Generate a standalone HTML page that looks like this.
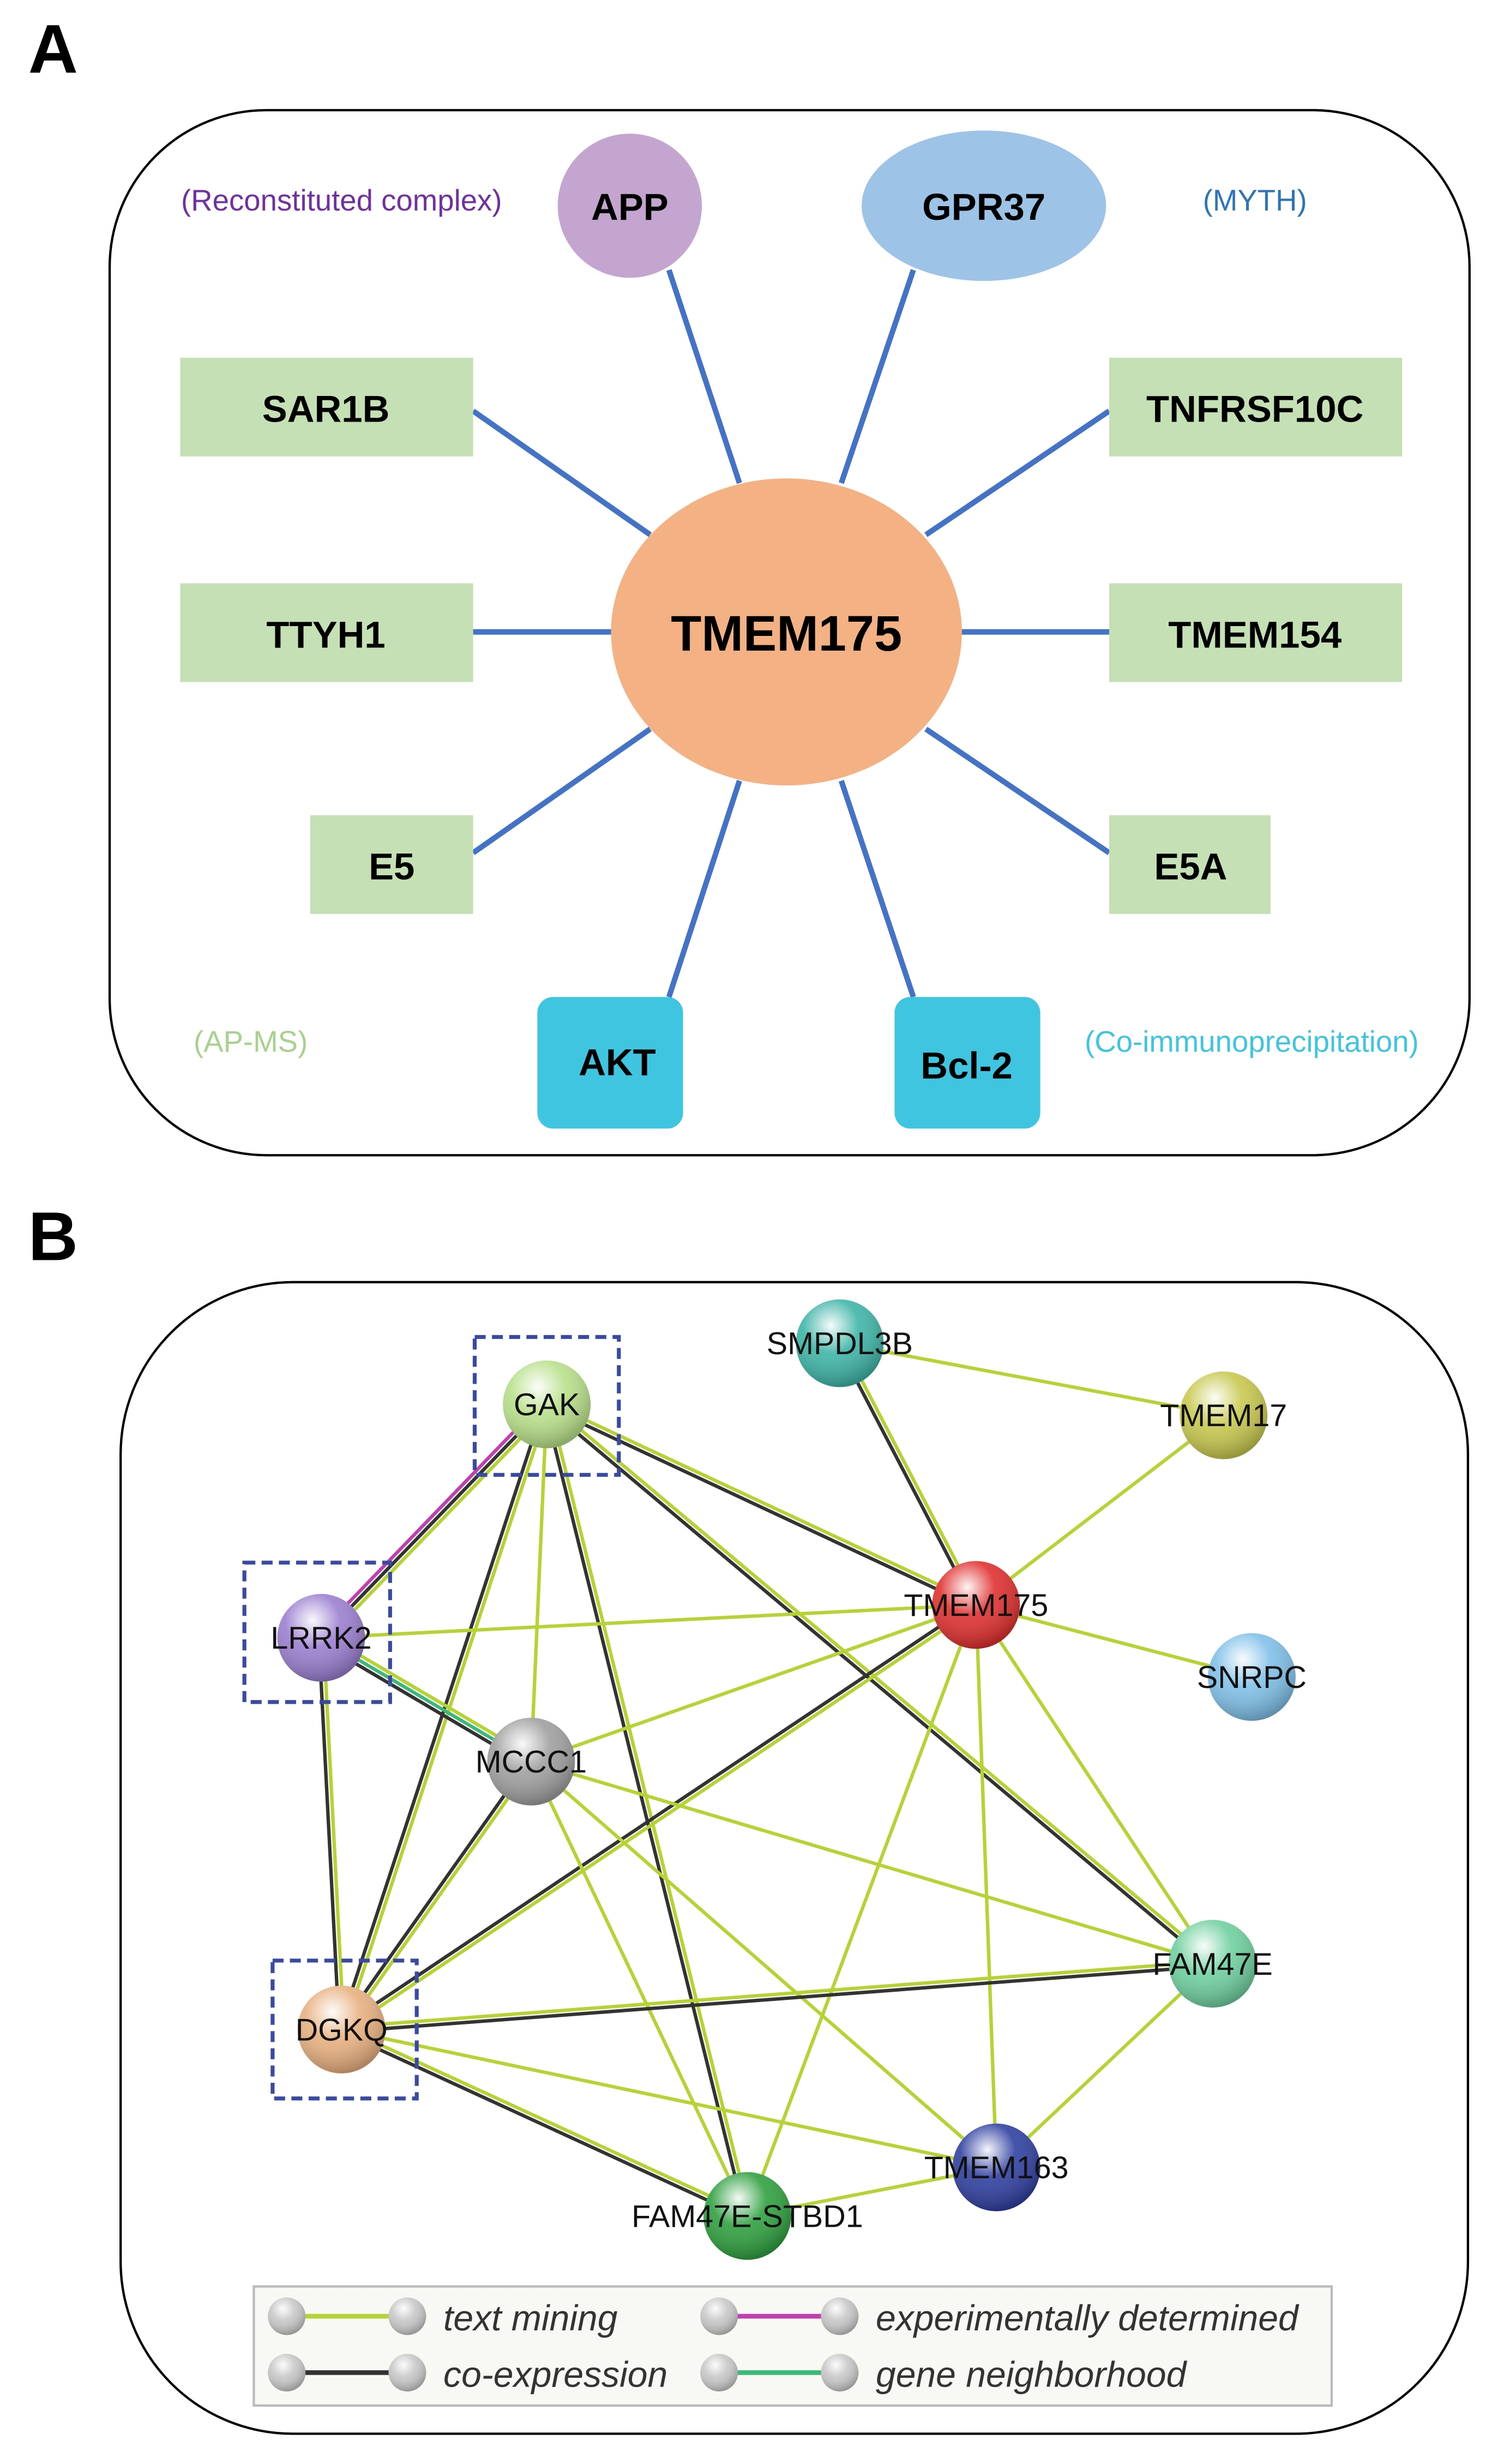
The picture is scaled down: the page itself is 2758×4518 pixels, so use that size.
<!DOCTYPE html>
<html><head><meta charset="utf-8">
<style>
html,body{margin:0;padding:0;background:#fff;}
svg{display:block;}
text{font-family:"Liberation Sans",Arial,sans-serif;}
</style></head>
<body>
<svg id="s" width="2758" height="4518" viewBox="0 0 960 1572" xmlns="http://www.w3.org/2000/svg">
<defs>
<radialGradient id="hl" cx="0.4" cy="0.3" r="0.7">
<stop offset="0" stop-color="#fff" stop-opacity="0.95"/>
<stop offset="0.45" stop-color="#fff" stop-opacity="0.1"/>
<stop offset="1" stop-color="#000" stop-opacity="0.25"/>
</radialGradient>
</defs>
<rect width="960" height="1572" fill="#fff"/>
<!-- Panel A -->
<text x="18" y="46" font-size="44" font-weight="bold">A</text>
<rect x="70" y="70" width="868" height="667" rx="100" fill="none" stroke="#000" stroke-width="1.5"/>
<g stroke="#4472C4" stroke-width="3.5">
<line x1="427" y1="172" x2="472" y2="308"/>
<line x1="583" y1="172" x2="537" y2="308"/>
<line x1="302" y1="262" x2="415" y2="341"/>
<line x1="708" y1="262" x2="591" y2="341"/>
<line x1="302" y1="403" x2="392" y2="403"/>
<line x1="612" y1="403" x2="708" y2="403"/>
<line x1="302" y1="544" x2="415" y2="465"/>
<line x1="708" y1="544" x2="591" y2="465"/>
<line x1="427" y1="636" x2="472" y2="498"/>
<line x1="583" y1="636" x2="537" y2="498"/>
</g>
<ellipse cx="502" cy="403" rx="112" ry="98" fill="#F4B183"/>
<circle cx="402" cy="131" r="46" fill="#C3A5CF"/>
<ellipse cx="628" cy="131" rx="78" ry="48" fill="#9DC3E6"/>
<g fill="#C5E0B4">
<rect x="115" y="228" width="187" height="63"/>
<rect x="708" y="228" width="187" height="63"/>
<rect x="115" y="372" width="187" height="63"/>
<rect x="708" y="372" width="187" height="63"/>
<rect x="198" y="520" width="104" height="63"/>
<rect x="708" y="520" width="103" height="63"/>
</g>
<rect x="343" y="636" width="93" height="84" rx="10" fill="#3FC5E0"/>
<rect x="571" y="636" width="93" height="84" rx="10" fill="#3FC5E0"/>
<g font-weight="bold" text-anchor="middle" font-size="24">
<text x="502" y="415" font-size="32">TMEM175</text>
<text x="402" y="140">APP</text>
<text x="628" y="140">GPR37</text>
<text x="208" y="269">SAR1B</text>
<text x="801" y="269">TNFRSF10C</text>
<text x="208" y="413">TTYH1</text>
<text x="801" y="413">TMEM154</text>
<text x="250" y="561">E5</text>
<text x="760" y="561">E5A</text>
<text x="394" y="686">AKT</text>
<text x="617" y="688">Bcl-2</text>
</g>
<g font-size="19" text-anchor="middle">
<text x="218" y="134" fill="#7030A0">(Reconstituted complex)</text>
<text x="801" y="134" fill="#2E75B6">(MYTH)</text>
<text x="160" y="671" fill="#A9D18E">(AP-MS)</text>
<text x="799" y="671" fill="#3FC5E0">(Co-immunoprecipitation)</text>
</g>
<!-- Panel B -->
<text x="18" y="804" font-size="44" font-weight="bold">B</text>
<rect x="77" y="818" width="860" height="735" rx="110" fill="none" stroke="#000" stroke-width="1.5"/>
<g id="edges"></g>
<g id="nodes"></g>
<g fill="none" stroke="#3A4AA0" stroke-width="2.5" stroke-dasharray="7,4">
<rect x="303" y="853" width="92" height="88"/>
<rect x="156" y="997" width="93" height="89"/>
<rect x="174" y="1251" width="92" height="88"/>
</g>
<rect x="162" y="1459" width="688" height="76" fill="#F8F8F4" stroke="#BBB" stroke-width="1.5"/>
<g stroke-width="3">
<line x1="183" y1="1478" x2="260" y2="1478" stroke="#B5D335"/>
<line x1="459" y1="1478" x2="536" y2="1478" stroke="#C040B0"/>
<line x1="183" y1="1514" x2="260" y2="1514" stroke="#333"/>
<line x1="459" y1="1514" x2="536" y2="1514" stroke="#3CB878"/>
</g>
<g>
<circle cx="183" cy="1478" r="12" fill="#c8c8c8"/><circle cx="183" cy="1478" r="12" fill="url(#hl)"/>
<circle cx="260" cy="1478" r="12" fill="#c8c8c8"/><circle cx="260" cy="1478" r="12" fill="url(#hl)"/>
<circle cx="459" cy="1478" r="12" fill="#c8c8c8"/><circle cx="459" cy="1478" r="12" fill="url(#hl)"/>
<circle cx="536" cy="1478" r="12" fill="#c8c8c8"/><circle cx="536" cy="1478" r="12" fill="url(#hl)"/>
<circle cx="183" cy="1514" r="12" fill="#c8c8c8"/><circle cx="183" cy="1514" r="12" fill="url(#hl)"/>
<circle cx="260" cy="1514" r="12" fill="#c8c8c8"/><circle cx="260" cy="1514" r="12" fill="url(#hl)"/>
<circle cx="459" cy="1514" r="12" fill="#c8c8c8"/><circle cx="459" cy="1514" r="12" fill="url(#hl)"/>
<circle cx="536" cy="1514" r="12" fill="#c8c8c8"/><circle cx="536" cy="1514" r="12" fill="url(#hl)"/>
</g>
<g font-size="23" font-style="italic" fill="#333">
<text x="283" y="1487">text mining</text>
<text x="559" y="1487">experimentally determined</text>
<text x="283" y="1523">co-expression</text>
<text x="559" y="1523">gene neighborhood</text>
</g>
</svg>
<script>
var N={GAK:[349,896,"#B8E08A"],SMPDL3B:[536,857,"#3FB5A8"],TMEM17:[781,903,"#C8C850"],TMEM175:[623,1024,"#E03030"],
LRRK2:[205,1045,"#9B7FD0"],SNRPC:[799,1070,"#80C0E8"],MCCC1:[339,1124,"#A0A0A0"],FAM47E:[774,1253,"#70D0A0"],
DGKQ:[218,1295,"#E8B080"],TMEM163:[636,1383,"#3040A0"],"FAM47E-STBD1":[477,1414,"#30A040"]};
var C={t:"#B5D335",c:"#333333",e:"#C040B0",n:"#3CB878"};
var E=[["GAK","LRRK2","tce"],["GAK","TMEM175","tc"],["GAK","FAM47E","tc"],["GAK","MCCC1","t"],["GAK","DGKQ","tc"],
["GAK","FAM47E-STBD1","tc"],["SMPDL3B","TMEM17","t"],["SMPDL3B","TMEM175","tc"],["TMEM17","TMEM175","t"],["TMEM175","SNRPC","t"],
["TMEM175","LRRK2","t"],["TMEM175","MCCC1","t"],["TMEM175","DGKQ","tc"],["TMEM175","FAM47E","t"],["TMEM175","TMEM163","t"],
["TMEM175","FAM47E-STBD1","t"],["LRRK2","MCCC1","tnc"],["LRRK2","DGKQ","tc"],["MCCC1","DGKQ","tc"],["MCCC1","FAM47E","t"],
["MCCC1","TMEM163","t"],["MCCC1","FAM47E-STBD1","t"],["DGKQ","FAM47E","tc"],["DGKQ","TMEM163","t"],["DGKQ","FAM47E-STBD1","tc"],
["FAM47E","TMEM163","t"],["TMEM163","FAM47E-STBD1","t"]];
var ns="http://www.w3.org/2000/svg",eg=document.getElementById("edges"),ng=document.getElementById("nodes");
function el(t,a,p){var e=document.createElementNS(ns,t);for(var k in a)e.setAttribute(k,a[k]);p.appendChild(e);return e;}
E.forEach(function(d){var a=N[d[0]],b=N[d[1]],dx=b[0]-a[0],dy=b[1]-a[1],L=Math.sqrt(dx*dx+dy*dy),px=-dy/L,py=dx/L,k=d[2].length;
for(var i=0;i<k;i++){var o=(i-(k-1)/2)*3;el("line",{x1:a[0]+px*o,y1:a[1]+py*o,x2:b[0]+px*o,y2:b[1]+py*o,stroke:C[d[2][i]],"stroke-width":2.2},eg);}});
for(var n in N){var v=N[n];el("circle",{cx:v[0],cy:v[1],r:28,fill:v[2]},ng);el("circle",{cx:v[0],cy:v[1],r:28,fill:"url(#hl)"},ng);
var t=el("text",{x:v[0],y:v[1]+7,"text-anchor":"middle","font-size":20,fill:"#111"},ng);t.textContent=n;}
</script>
</body></html>
